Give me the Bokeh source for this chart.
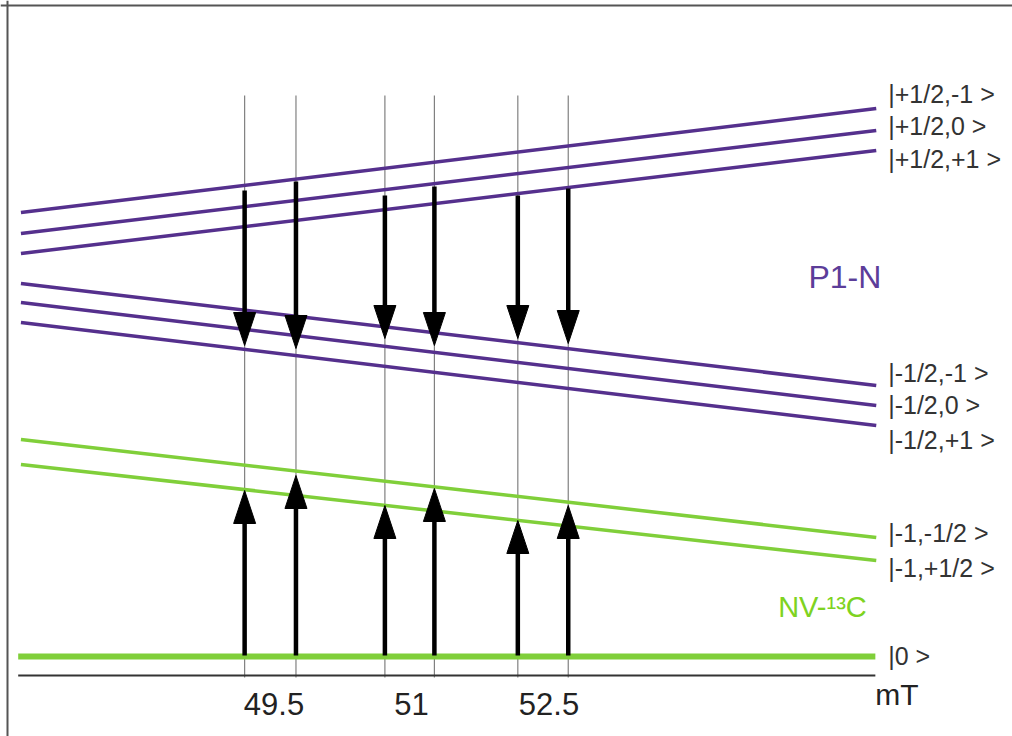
from bokeh.plotting import figure
from bokeh.models import Range1d, Span, ColumnDataSource
from bokeh.core.properties import value
from bokeh.embed import file_html
from bokeh.resources import INLINE

# ---- magnetic field axis (mT) ----
tick_values = [49.5, 51.0, 52.5]
tick_labels = ["49.5", "51", "52.5"]
axis_unit = "mT"
field_start = 46.74
field_end = 56.07

# ---- P1 centre levels |mS, mI>, energy (arb. units) at both field ends ----
p1_states = ["|+1/2,-1 >", "|+1/2,0 >", "|+1/2,+1 >",
             "|-1/2,-1 >", "|-1/2,0 >", "|-1/2,+1 >"]
p1_energy_start = [9.26, 8.84, 8.44, 7.84, 7.46, 7.06]
p1_energy_end = [11.34, 10.90, 10.50, 5.80, 5.40, 5.00]

# ---- NV-13C levels |mS, mI> ----
nv_states = ["|-1,-1/2 >", "|-1,+1/2 >", "|0 >"]
nv_energy_start = [4.72, 4.22, 0.38]
nv_energy_end = [2.76, 2.30, 0.38]

# ---- cross-relaxation resonances ----
resonance_fields = [49.18, 49.74, 50.71, 51.25, 52.16, 52.71]
p1_flip_from = [9.70, 9.88, 9.60, 9.78, 9.60, 9.74]
p1_flip_to = [6.60, 6.54, 6.74, 6.60, 6.74, 6.64]
nv_flip_from = [0.40, 0.40, 0.40, 0.40, 0.40, 0.40]
nv_flip_to = [3.70, 4.00, 3.40, 3.74, 3.10, 3.40]
marker_top = 11.6

# ---- styling ----
PURPLE = "#55308d"
GREEN = "#80cf3a"
TEXT = "#333333"
FONT = value("Liberation Sans")
HEAD_LEN = 0.66     # arrow head length, energy units
HEAD_HALF = 0.12    # arrow head half width, mT
X_MIN, X_MAX = 46.517, 57.556
Y_MIN, Y_MAX = -1.22, 13.5
label_x = 56.20
p1_label_y = [11.64, 11.00, 10.34, 6.06, 5.42, 4.72]
nv_label_y = [2.86, 2.16, 0.40]

p = figure(width=1012, height=736,
           x_range=Range1d(X_MIN, X_MAX), y_range=Range1d(Y_MIN, Y_MAX),
           x_axis_type=None, y_axis_type=None,
           output_backend="svg", toolbar_location=None, min_border=0)
p.outline_line_color = None
p.background_fill_color = "white"
p.border_fill_color = "white"

# picture border (left and top edges)
p.add_layout(Span(location=X_MIN + 7 / 91.67, dimension="height",
                  line_color="#555555", line_width=2))
p.add_layout(Span(location=Y_MAX - 5 / 50.0, dimension="width",
                  line_color="#555555", line_width=2))

# vertical resonance markers
p.segment(x0=resonance_fields, y0=[-0.04] * len(resonance_fields),
          x1=resonance_fields, y1=[marker_top] * len(resonance_fields),
          line_color="#808080", line_width=1.2)

# energy levels
n_p1 = len(p1_states)
p.segment(x0=[field_start] * n_p1, y0=p1_energy_start,
          x1=[field_end] * n_p1, y1=p1_energy_end,
          line_color=PURPLE, line_width=3.5)
p.segment(x0=[field_start] * 2, y0=nv_energy_start[:2],
          x1=[field_end] * 2, y1=nv_energy_end[:2],
          line_color=GREEN, line_width=3.5)
p.segment(x0=[field_start - 0.03], y0=nv_energy_start[2:],
          x1=[field_end - 0.01], y1=nv_energy_end[2:],
          line_color=GREEN, line_width=6)

# field axis line
p.segment(x0=[field_start - 0.03], y0=[0], x1=[field_end - 0.01], y1=[0],
          line_color="#333333", line_width=2)


def arrows(x, y_from, y_to):
    shafts = dict(x0=[], y0=[], x1=[], y1=[])
    heads = dict(xs=[], ys=[])
    for xi, a, b in zip(x, y_from, y_to):
        d = 1 if b > a else -1
        base = b - d * HEAD_LEN
        shafts["x0"].append(xi); shafts["y0"].append(a)
        shafts["x1"].append(xi); shafts["y1"].append(base)
        heads["xs"].append([xi - HEAD_HALF, xi + HEAD_HALF, xi])
        heads["ys"].append([base, base, b])
    return ColumnDataSource(shafts), ColumnDataSource(heads)


for src_from, src_to in ((p1_flip_from, p1_flip_to), (nv_flip_from, nv_flip_to)):
    shafts, heads = arrows(resonance_fields, src_from, src_to)
    p.segment(x0="x0", y0="y0", x1="x1", y1="y1", source=shafts,
              line_color="black", line_width=4.5)
    p.patches(xs="xs", ys="ys", source=heads, fill_color="black",
              line_color="black", line_width=1)

# state labels
p.text(x=[label_x] * n_p1, y=p1_label_y, text=p1_states,
       text_font=FONT, text_font_size="25px", text_color=TEXT,
       text_align="left", text_baseline="middle")
p.text(x=[label_x] * len(nv_states), y=nv_label_y, text=nv_states,
       text_font=FONT, text_font_size="25px", text_color=TEXT,
       text_align="left", text_baseline="middle")

# system names
p.text(x=[55.33], y=[7.97], text=["P1-N"], text_font=FONT,
       text_font_size="32px", text_color="#5c3d99",
       text_align="left", text_baseline="middle")
p.text(x=[55.00], y=[1.38], text=["NV-\u00b9\u00b3C"], text_font=FONT,
       text_font_size="29px", text_color="#7ed321",
       text_align="left", text_baseline="middle")

# tick labels and unit
p.text(x=tick_values, y=[-0.57] * len(tick_values), text=tick_labels,
       text_font=FONT, text_font_size="31px", text_color="#222222",
       text_align="center", text_baseline="middle")
p.text(x=[field_end - 0.01], y=[-0.38], text=[axis_unit],
       text_font=FONT, text_font_size="30px", text_color="#222222",
       text_align="left", text_baseline="middle")

open("out.html", "w").write(file_html(p, INLINE))
